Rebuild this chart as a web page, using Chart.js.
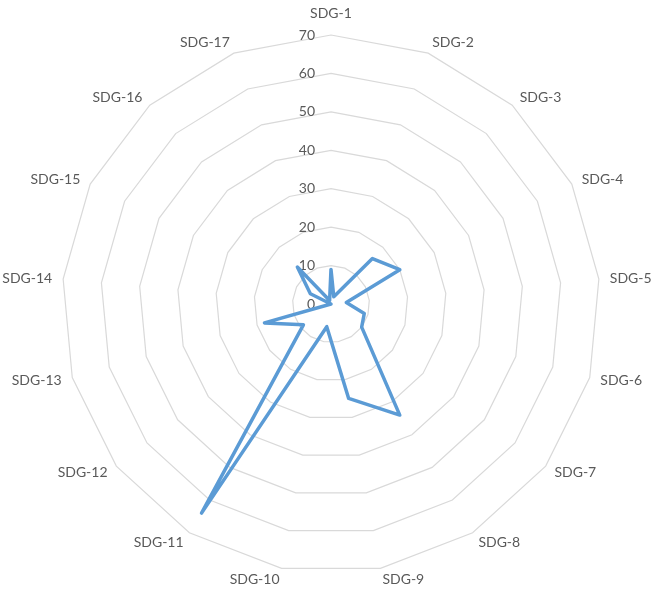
<!DOCTYPE html>
<html>
<head>
<meta charset="utf-8">
<script src="https://cdn.jsdelivr.net/npm/chart.js@4/dist/chart.umd.min.js"></script>
<style>
  html, body { margin: 0; padding: 0; background: #ffffff; }
  #wrap { width: 654px; height: 592px; position: relative; }
</style>
</head>
<body>
<div id="wrap"><canvas id="radar"></canvas></div>
<script>
// Sustainable Development Goals on the spokes, clockwise from the top
const categories = [
  'SDG-1', 'SDG-2', 'SDG-3', 'SDG-4', 'SDG-5', 'SDG-6', 'SDG-7', 'SDG-8', 'SDG-9',
  'SDG-10', 'SDG-11', 'SDG-12', 'SDG-13', 'SDG-14', 'SDG-15', 'SDG-16', 'SDG-17'
];
// One value per goal
const sdgValues = [9, 2, 16, 20, 4, 9, 10, 34, 25, 6, 64, 9, 18, 0, 6, 13, 1];
// Ring values of the radial axis
const ringValues = [0, 10, 20, 30, 40, 50, 60, 70];

const LABEL_FONT = '14px Lato, "Open Sans", "Liberation Sans", sans-serif';
const LABEL_COLOR = '#595959';

// Category and ring labels, placed from the radial scale's own geometry
const radarLabels = {
  id: 'radarLabels',
  beforeDatasetsDraw(chart) {
    const scale = chart.scales.r;
    const ctx = chart.ctx;
    ctx.save();
    ctx.font = LABEL_FONT;
    ctx.fillStyle = LABEL_COLOR;

    categories.forEach((name, i) => {
      const angle = scale.getIndexAngle(i);
      const s = Math.sin(angle);
      const c = Math.cos(angle);
      const top = c > 0.999;
      const p = scale.getPointPosition(i, scale.drawingArea + (top ? 15 : 11));
      ctx.textAlign = Math.abs(s) < 0.01 ? 'center' : (s > 0 ? 'left' : 'right');
      ctx.textBaseline = top ? 'bottom' : (c < -0.999 ? 'top' : 'middle');
      ctx.fillText(name, p.x, p.y);
    });

    ctx.textAlign = 'right';
    ctx.textBaseline = 'middle';
    scale.ticks.forEach(tick => {
      const y = scale.yCenter - scale.getDistanceFromCenterForValue(tick.value);
      ctx.fillText(String(tick.value), scale.xCenter - 16, y);
    });
    ctx.restore();
  }
};

new Chart(document.getElementById('radar'), {
  type: 'radar',
  data: {
    labels: categories,
    datasets: [{
      data: sdgValues,
      borderColor: '#5B9BD5',
      backgroundColor: 'rgba(0,0,0,0)',
      borderWidth: 3.5,
      borderJoinStyle: 'round',
      borderCapStyle: 'round',
      fill: false,
      pointRadius: 0,
      pointHoverRadius: 0,
      tension: 0
    }]
  },
  options: {
    responsive: true,
    maintainAspectRatio: false,
    animation: false,
    events: [],
    layout: { padding: { left: 62, right: 53, top: 35, bottom: 19 } },
    plugins: {
      legend: { display: false },
      tooltip: { enabled: false }
    },
    scales: {
      r: {
        min: ringValues[0],
        max: ringValues[ringValues.length - 1],
        ticks: { stepSize: ringValues[1] - ringValues[0], display: false },
        grid: { circular: false, color: '#d9d9d9', lineWidth: 1.2 },
        angleLines: { display: false },
        pointLabels: { display: false }
      }
    }
  },
  plugins: [radarLabels]
});
</script>
</body>
</html>
